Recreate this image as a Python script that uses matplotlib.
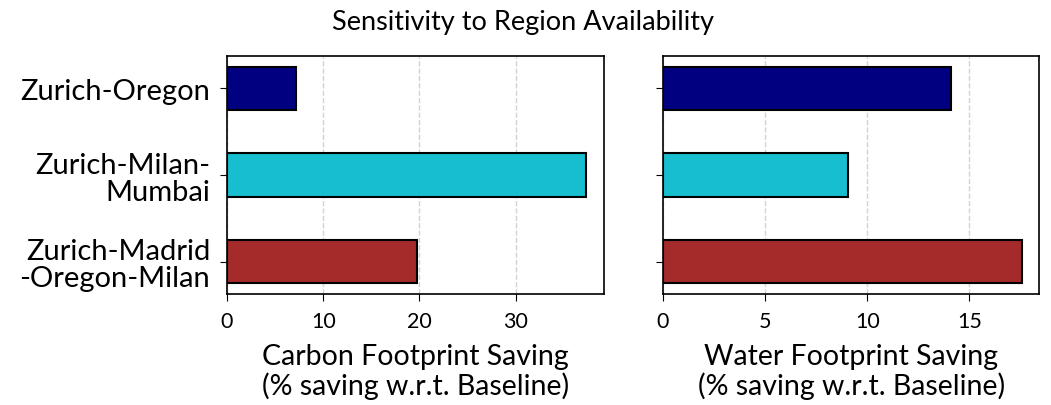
import numpy as np
import matplotlib
matplotlib.use("Agg")
import matplotlib.pyplot as plt

plt.rcParams['font.family'] = ['Lato', 'DejaVu Sans']

# data
regions = ['Zurich-Oregon', 'Zurich-Milan-\nMumbai', 'Zurich-Madrid\n-Oregon-Milan']
carbon_saving = [7.2, 37.3, 19.8]
water_saving = [14.1, 9.05, 17.55]
colors = ['#000080', '#17becf', '#a52a2a']

fig, (ax1, ax2) = plt.subplots(1, 2, figsize=(10.51, 4.06), dpi=100)
plt.subplots_adjust(left=0.216, right=0.989, top=0.86, bottom=0.273, wspace=0.157)

y = np.arange(len(regions))
for ax, vals, lab in [(ax1, carbon_saving, 'Carbon Footprint Saving\n(% saving w.r.t. Baseline)'),
                      (ax2, water_saving, 'Water Footprint Saving\n(% saving w.r.t. Baseline)')]:
    ax.barh(y, vals, height=0.5, color=colors, edgecolor='black', linewidth=1.5, zorder=3)
    ax.invert_yaxis()
    ax.grid(axis='x', linestyle='--', color='lightgray', linewidth=1, zorder=0)
    ax.set_axisbelow(True)
    ax.set_xlabel(lab, fontsize=20.5, linespacing=1.08, labelpad=9)
    ax.tick_params(axis='x', labelsize=15.5, pad=7, length=5)
    ax.tick_params(axis='y', length=5, pad=7)
    ax.set_yticks(y)
    for s in ax.spines.values():
        s.set_linewidth(1.2)

ax1.set_yticklabels(regions, fontsize=21, linespacing=1.05)
ax2.set_yticklabels([])
ax2.set_xticks([0, 5, 10, 15])

fig.suptitle('Sensitivity to Region Availability', fontsize=19.5, x=0.498, y=0.975)

plt.savefig('out.png', dpi=100)
